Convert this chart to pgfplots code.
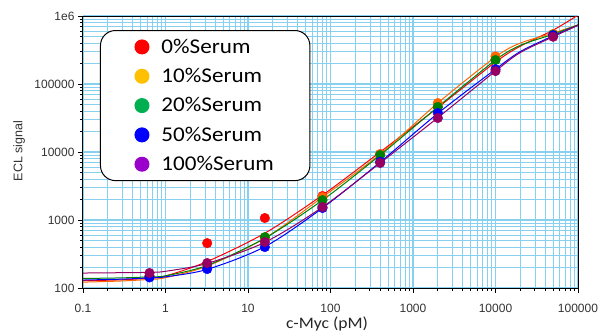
\documentclass[border=0pt]{standalone}
\usepackage{fontspec}
\setmainfont{Liberation Sans}
\newfontfamily\calib[FakeStretch=1.1]{Carlito}
\usepackage{pgfplots}
\pgfplotsset{compat=1.18}
\definecolor{gridblue}{RGB}{135,208,240}
\definecolor{corange}{RGB}{255,102,0}
\definecolor{cgreen}{RGB}{0,128,0}
\definecolor{cblue}{RGB}{0,0,255}
\definecolor{cpurple}{RGB}{150,0,100}
\definecolor{lred}{RGB}{255,0,0}
\definecolor{lgold}{RGB}{255,192,0}
\definecolor{lgreen}{RGB}{0,176,80}
\definecolor{lblue}{RGB}{0,0,255}
\definecolor{lpurple}{RGB}{153,0,204}
\begin{document}
\begin{tikzpicture}
\begin{axis}[
  at={(0,0)}, anchor=south west,
  scale only axis, width=495pt, height=272pt,
  xmode=log, ymode=log,
  xmin=0.1, xmax=100000, ymin=100, ymax=1000000,
  xtick={0.1,1,10,100,1000,10000,100000},
  xticklabels={0.1,1,10,100,1000,10000,100000},
  ytick={100,1000,10000,100000,1000000},
  yticklabels={100,1000,10000,100000,1e6},
  minor xtick={0.2,0.3,0.4,0.5,0.6,0.7,0.8,0.9,2,3,4,5,6,7,8,9,20,30,40,50,60,70,80,90,200,300,400,500,600,700,800,900,2000,3000,4000,5000,6000,7000,8000,9000,20000,30000,40000,50000,60000,70000,80000,90000},
  minor ytick={200,300,400,500,600,700,800,900,2000,3000,4000,5000,6000,7000,8000,9000,20000,30000,40000,50000,60000,70000,80000,90000,200000,300000,400000,500000,600000,700000,800000,900000},
  tick align=outside, xtick pos=bottom, ytick pos=left,
  major tick length=5pt, minor tick length=3pt,
  tick style={black, line width=0.8pt},
  grid=both,
  major grid style={gridblue, line width=1.1pt},
  minor grid style={gridblue, line width=0.7pt},
  axis line style={black, line width=1pt},
  ticklabel style={font=\fontsize{12}{12}\selectfont, text=black!80},
  xticklabel style={yshift=-8pt},
  xlabel={\calib\fontsize{16}{16}\selectfont c-Myc (pM)},
  xlabel style={at={(axis description cs:0.493,-0.133)}, anchor=center, text=black!85},
  ylabel={\fontsize{12.5}{12.5}\selectfont ECL signal},
  ylabel style={at={(axis description cs:-0.129,0.504)}, anchor=center, text=black!80},
  legend style={at={(axis description cs:0.0343,0.9485)}, anchor=north west,
    draw=black, line width=1pt, rounded corners=15pt, fill=white,
    font=\calib\fontsize{21}{21}\selectfont,
    inner xsep=34pt, inner ysep=6.5pt, row sep=9.5pt},
  legend cell align=left,
  legend image code/.code={\fill[#1] (0pt,0pt) circle (7pt); \path (17pt,0pt);},
]
% fitted curves
\addplot[lred, line width=1pt, smooth, tension=0.5, forget plot] coordinates {
 (0.1,128) (0.3,132) (0.64,140) (1,150) (3.2,245) (16,640) (80,2320) (400,10000) (2000,45000) (10000,210000) (20000,360000) (50000,620000) (100000,1030000)};
\addplot[corange, line width=1pt, smooth, tension=0.5, forget plot] coordinates {
 (0.1,122) (0.3,127) (0.64,134) (1,142) (3.2,210) (16,540) (80,2170) (400,9300) (2000,52500) (10000,250000) (20000,400000) (50000,560000) (100000,740000)};
\addplot[cgreen, line width=1pt, smooth, tension=0.5, forget plot] coordinates {
 (0.1,138) (0.3,141) (0.64,146) (1,151) (3.2,215) (16,540) (80,1960) (400,9000) (2000,46000) (10000,225000) (20000,370000) (50000,540000) (100000,740000)};
\addplot[cblue, line width=1pt, smooth, tension=0.5, forget plot] coordinates {
 (0.1,131) (0.3,135) (0.64,141) (1,146) (3.2,188) (16,405) (80,1500) (400,7100) (2000,37000) (10000,165000) (20000,300000) (50000,510000) (100000,730000)};
\addplot[cpurple, line width=1pt, smooth, tension=0.5, forget plot] coordinates {
 (0.1,166) (0.3,168) (0.64,170) (1,176) (3.2,230) (16,470) (80,1550) (400,6900) (2000,32000) (10000,155000) (20000,290000) (50000,495000) (100000,730000)};
% data points
\addplot[only marks, mark=*, mark size=4.8pt, lred, forget plot] coordinates {
 (0.64,150) (3.2,457) (16,1070) (80,2250) (400,9300) (2000,46000) (10000,230000) (50000,540000)};
\addplot[only marks, mark=*, mark size=4.8pt, corange, forget plot] coordinates {
 (0.64,148) (3.2,215) (16,545) (80,2170) (400,9300) (2000,52500) (10000,255000) (50000,540000)};
\addplot[only marks, mark=*, mark size=4.8pt, cgreen, forget plot] coordinates {
 (0.64,148) (3.2,222) (16,560) (80,1960) (400,9000) (2000,46000) (10000,225000) (50000,530000)};
\addplot[only marks, mark=*, mark size=4.8pt, cblue, forget plot] coordinates {
 (0.64,143) (3.2,190) (16,400) (80,1500) (400,7200) (2000,37500) (10000,165000) (50000,520000)};
\addplot[only marks, mark=*, mark size=4.8pt, cpurple, forget plot] coordinates {
 (0.64,166) (3.2,233) (16,475) (80,1550) (400,6900) (2000,31600) (10000,155000) (50000,495000)};
\addlegendimage{lred}\addlegendentry{0\%Serum}
\addlegendimage{lgold}\addlegendentry{10\%Serum}
\addlegendimage{lgreen}\addlegendentry{20\%Serum}
\addlegendimage{lblue}\addlegendentry{50\%Serum}
\addlegendimage{lpurple}\addlegendentry{100\%Serum}
\end{axis}
\pgfresetboundingbox
\path (-83pt,-45pt) rectangle (524pt,288pt);
\end{tikzpicture}
\end{document}
